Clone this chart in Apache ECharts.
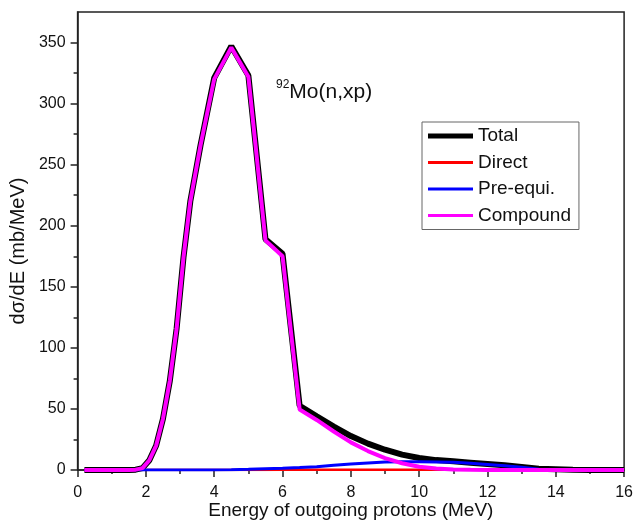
<!DOCTYPE html>
<html lang="en">

<head>
  <meta charset="UTF-8">
  <title>92Mo(n,xp)</title>
  <script src="https://cdn.jsdelivr.net/npm/echarts@6/dist/echarts.min.js"></script>
  <style>
    body { margin: 0; background: #fff; }
  </style>
</head>

<body>
  <div id="main" style="width: 636px;height:530px;"></div>
  <script>
    // outgoing proton energy (MeV)
    var energy = [0.2, 0.5, 1.0, 1.5, 1.7, 1.9, 2.1, 2.3, 2.5, 2.7, 2.9, 3.1, 3.3, 3.6,
      4.0, 4.5, 5.0, 5.5, 6.0, 6.5, 7.0, 7.5, 8.0, 8.5, 9.0, 9.5, 10.0, 10.5, 11.0, 11.5,
      12.0, 12.5, 13.0, 13.5, 14.0, 14.5, 15.0, 15.5, 16.0];

    // dσ/dE (mb/MeV)
    var total = [0, 0, 0, 0, 0.3, 1.5, 8, 20, 42, 73, 116, 174, 220, 266,
      321, 347, 323, 189, 177, 52.6, 44, 35.6, 27.8, 21.6, 16.6, 12.6, 9.8, 8.1, 7.1, 6.0,
      4.9, 3.8, 2.5, 1.0, 0.7, 0.3, 0, 0, 0];
    var direct = [0, 0, 0, 0, 0, 0, 0, 0, 0, 0, 0, 0, 0, 0,
      0, 0, 0, 0.1, 0.2, 0.3, 0.3, 0.3, 0.3, 0.3, 0.3, 0.3, 0.3, 0.3, 0.3, 0.3,
      0.3, 0.3, 0.3, 0.4, 0.6, 0.3, 0, 0, 0];
    var preEqui = [0, 0, 0, 0, 0, 0, 0, 0, 0, 0, 0, 0, 0, 0,
      0.1, 0.3, 0.6, 1.0, 1.4, 2.0, 2.7, 3.8, 4.9, 5.8, 6.6, 6.8, 6.8, 6.6, 6.3, 5.5,
      4.6, 3.5, 2.2, 0.6, 0.1, 0, 0, 0, 0];
    var compound = [0, 0, 0, 0, 0.3, 1.5, 8, 20, 42, 73, 116, 174, 220, 266,
      320, 346, 322, 188, 175, 49.5, 41, 31.5, 22.6, 15.5, 9.7, 5.5, 2.7, 1.2, 0.5, 0.2,
      0, 0, 0, 0, 0, 0, 0, 0, 0];

    var seriesNames = ['Total', 'Direct', 'Pre-equi.', 'Compound'];
    var seriesColors = ['#000000', '#ff0000', '#0000ff', '#ff00ff'];
    var seriesWidths = [6, 2.5, 3, 4];
    var seriesValues = [total, direct, preEqui, compound];

    var yMinorTicks = [25, 75, 125, 175, 225, 275, 325];

    var fontFamily = '"Liberation Sans", Arial, sans-serif';
    var axisColor = '#222';

    // legend keys: a bar inside a 45x14 box (the moveTo points fix the box)
    var thickKey = 'path://M0,0M45,14M0,4.5H45V9.5H0Z';
    var thinKey = 'path://M0,0M45,14M0,5.5H45V8.5H0Z';

    var myChart = echarts.init(document.getElementById('main'));

    function pairs(values) {
      return energy.map(function (e, i) { return [e, values[i]]; });
    }

    var option = {
      animation: false,
      backgroundColor: '#fff',
      textStyle: { fontFamily: fontFamily },
      title: {
        text: '{a|92}{b|Mo(n,xp)}',
        left: 276,
        top: 79,
        padding: 0,
        textStyle: {
          fontWeight: 'normal',
          rich: {
            a: { fontSize: 12, lineHeight: 26, verticalAlign: 'top', fontWeight: 'normal', color: '#111', fontFamily: fontFamily },
            b: { fontSize: 21, lineHeight: 26, fontWeight: 'normal', color: '#111', fontFamily: fontFamily }
          }
        }
      },
      legend: {
        orient: 'vertical',
        left: 422,
        top: 122,
        padding: [4, 8, 4, 6],
        itemWidth: 45,
        itemHeight: 14,
        itemGap: 6.5,
        borderColor: '#666',
        borderWidth: 1,
        backgroundColor: '#fff',
        textStyle: { fontSize: 19, lineHeight: 20, color: '#111', fontFamily: fontFamily },
        data: seriesNames.map(function (name, i) {
          return { name: name, icon: i === 0 ? thickKey : thinKey };
        })
      },
      grid: {
        left: 75,
        right: 10,
        top: 12,
        bottom: 60,
        show: true,
        borderColor: axisColor,
        borderWidth: 1.5
      },
      xAxis: {
        type: 'value',
        min: 0,
        max: 16,
        interval: 2,
        name: 'Energy of outgoing protons (MeV)',
        nameLocation: 'middle',
        nameGap: 31,
        nameMoveOverlap: false,
        nameTextStyle: { fontSize: 19, color: '#111', fontFamily: fontFamily },
        axisLine: { lineStyle: { color: axisColor, width: 1.5 } },
        axisTick: { length: 7, lineStyle: { color: axisColor, width: 1.5 } },
        minorTick: { show: true, splitNumber: 2, length: 4, lineStyle: { color: axisColor, width: 1.5 } },
        axisLabel: { fontSize: 16, color: '#111', margin: 15 },
        splitLine: { show: false }
      },
      yAxis: [{
        type: 'value',
        min: 0,
        max: 375,
        interval: 50,
        name: 'dσ/dE (mb/MeV)',
        nameLocation: 'middle',
        nameGap: 43,
        nameTextStyle: { fontSize: 20, color: '#111', fontFamily: fontFamily, padding: [0, 20, 0, 0] },
        axisLine: { show: true, lineStyle: { color: axisColor, width: 1.5 } },
        axisTick: { show: true, length: 7, customValues: [0, 50, 100, 150, 200, 250, 300, 350], lineStyle: { color: axisColor, width: 1.5 } },
        axisLabel: { fontSize: 16, color: '#111', margin: 12, showMaxLabel: false },
        splitLine: { show: false }
      }, {
        // only carries the minor ticks of the left axis
        type: 'value',
        position: 'left',
        min: 0,
        max: 375,
        interval: 50,
        axisLine: { show: false },
        axisTick: { show: true, length: 4, customValues: yMinorTicks, lineStyle: { color: axisColor, width: 1.5 } },
        axisLabel: { show: false },
        splitLine: { show: false }
      }],
      series: seriesNames.map(function (name, i) {
        return {
          name: name,
          type: 'line',
          data: pairs(seriesValues[i]),
          symbol: 'none',
          smooth: false,
          z: 2 + i,
          color: seriesColors[i],
          lineStyle: { color: seriesColors[i], width: seriesWidths[i] }
        };
      })
    };

    myChart.setOption(option);
  </script>
</body>

</html>
